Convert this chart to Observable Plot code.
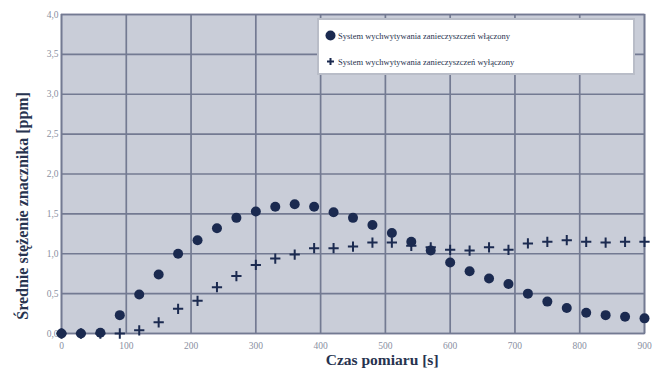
<!DOCTYPE html>
<html>
<head>
<meta charset="utf-8">
<script src="https://cdn.jsdelivr.net/npm/d3@7"></script>
<script src="https://cdn.jsdelivr.net/npm/@observablehq/plot@0.6"></script>
<style>
  html, body { margin: 0; padding: 0; background: #fff; }
  #wrap { position: relative; width: 654px; height: 375px; }
  .legend { position: absolute; left: 319px; top: 20px; width: 314px; height: 53px;
    background: #fff; box-shadow: 0 0 0 2px #b9bdc8; font-family: "Liberation Serif", serif;
    font-size: 8.5px; color: #27334f; }
  .legend .row { position: absolute; left: 6px; display: flex; align-items: center; }
  .legend svg { margin-right: 2px; }
</style>
</head>
<body>
<div id="wrap"></div>
<script>
const times = [0,30,60,90,120,150,180,210,240,270,300,330,360,390,420,450,480,510,540,570,600,630,660,690,720,750,780,810,840,870,900];
const onValues = [0,0,0.01,0.23,0.49,0.74,1.0,1.17,1.32,1.45,1.53,1.59,1.62,1.59,1.52,1.45,1.36,1.26,1.15,1.04,0.89,0.78,0.69,0.62,0.50,0.40,0.32,0.26,0.23,0.21,0.19];
const offValues = [0,0,0,0,0.04,0.14,0.31,0.41,0.58,0.72,0.86,0.94,0.99,1.07,1.07,1.09,1.14,1.14,1.10,1.08,1.05,1.04,1.08,1.05,1.13,1.15,1.17,1.15,1.14,1.15,1.15];
const seriesNames = ["System wychwytywania zanieczyszczeń włączony", "System wychwytywania zanieczyszczeń wyłączony"];
const xTicks = [0,100,200,300,400,500,600,700,800,900];
const yTicks = [0,0.5,1,1.5,2,2.5,3,3.5,4];
const xLabel = "Czas pomiaru [s]";
const yLabel = "Średnie stężenie znacznika [ppm]";

const onData = times.map((t, i) => ({t, v: onValues[i]}));
const offData = times.map((t, i) => ({t, v: offValues[i]}));

const markColor = "#1b2a50";
const gridColor = "#737a92";
const fmt = d => d.toFixed(1).replace(".", ",");

const chart = Plot.plot({
  width: 654,
  height: 375,
  marginLeft: 61,
  marginRight: 10,
  marginTop: 14,
  marginBottom: 42,
  style: {fontFamily: "'Liberation Serif', serif", background: "transparent"},
  x: {domain: [0, 900], ticks: xTicks, axis: null},
  y: {domain: [0, 4], ticks: yTicks, axis: null},
  marks: [
    Plot.frame({fill: "#c9cdd8", stroke: gridColor, strokeWidth: 1.5}),
    Plot.gridX(xTicks, {stroke: gridColor, strokeOpacity: 1, strokeWidth: 1.7}),
    Plot.gridY(yTicks, {stroke: gridColor, strokeOpacity: 1, strokeWidth: 1.7}),
    Plot.axisX(xTicks, {tickSize: 0, tickPadding: 9, fontSize: 9.5, fill: "#8a90a2", label: null, tickFormat: d => String(d)}),
    Plot.axisY(yTicks, {tickSize: 0, tickPadding: 3, fontSize: 9.5, fill: "#8a90a2", label: null, tickFormat: fmt}),
    Plot.dot(offData, {x: "t", y: "v", symbol: "plus", r: 3.4, stroke: markColor, strokeWidth: 2}),
    Plot.dot(onData, {x: "t", y: "v", symbol: "circle", r: 5, fill: markColor, stroke: "none"}),
    Plot.text([xLabel], {x: [495], frameAnchor: "bottom", dy: 31, fontSize: 15.5, fontWeight: "bold", fill: "#27334f", text: d => d}),
    Plot.text([yLabel], {y: [1.6], frameAnchor: "left", textAnchor: "middle", dx: -39, rotate: -90, fontSize: 16, fontWeight: "bold", fill: "#27334f", text: d => d})
  ]
});

const wrap = document.getElementById("wrap");
wrap.appendChild(chart);

const legend = document.createElement("div");
legend.className = "legend";
const row1 = document.createElement("div");
row1.className = "row"; row1.style.top = "10px";
row1.innerHTML = `<svg width="11" height="11"><circle cx="5.5" cy="5.5" r="5" fill="${markColor}"/></svg><span>${seriesNames[0]}</span>`;
const row2 = document.createElement("div");
row2.className = "row"; row2.style.top = "36px";
row2.innerHTML = `<svg width="11" height="11"><path d="M5.5 2V9M2 5.5H9" stroke="${markColor}" stroke-width="2"/></svg><span>${seriesNames[1]}</span>`;
legend.appendChild(row1);
legend.appendChild(row2);
wrap.appendChild(legend);
</script>
</body>
</html>
